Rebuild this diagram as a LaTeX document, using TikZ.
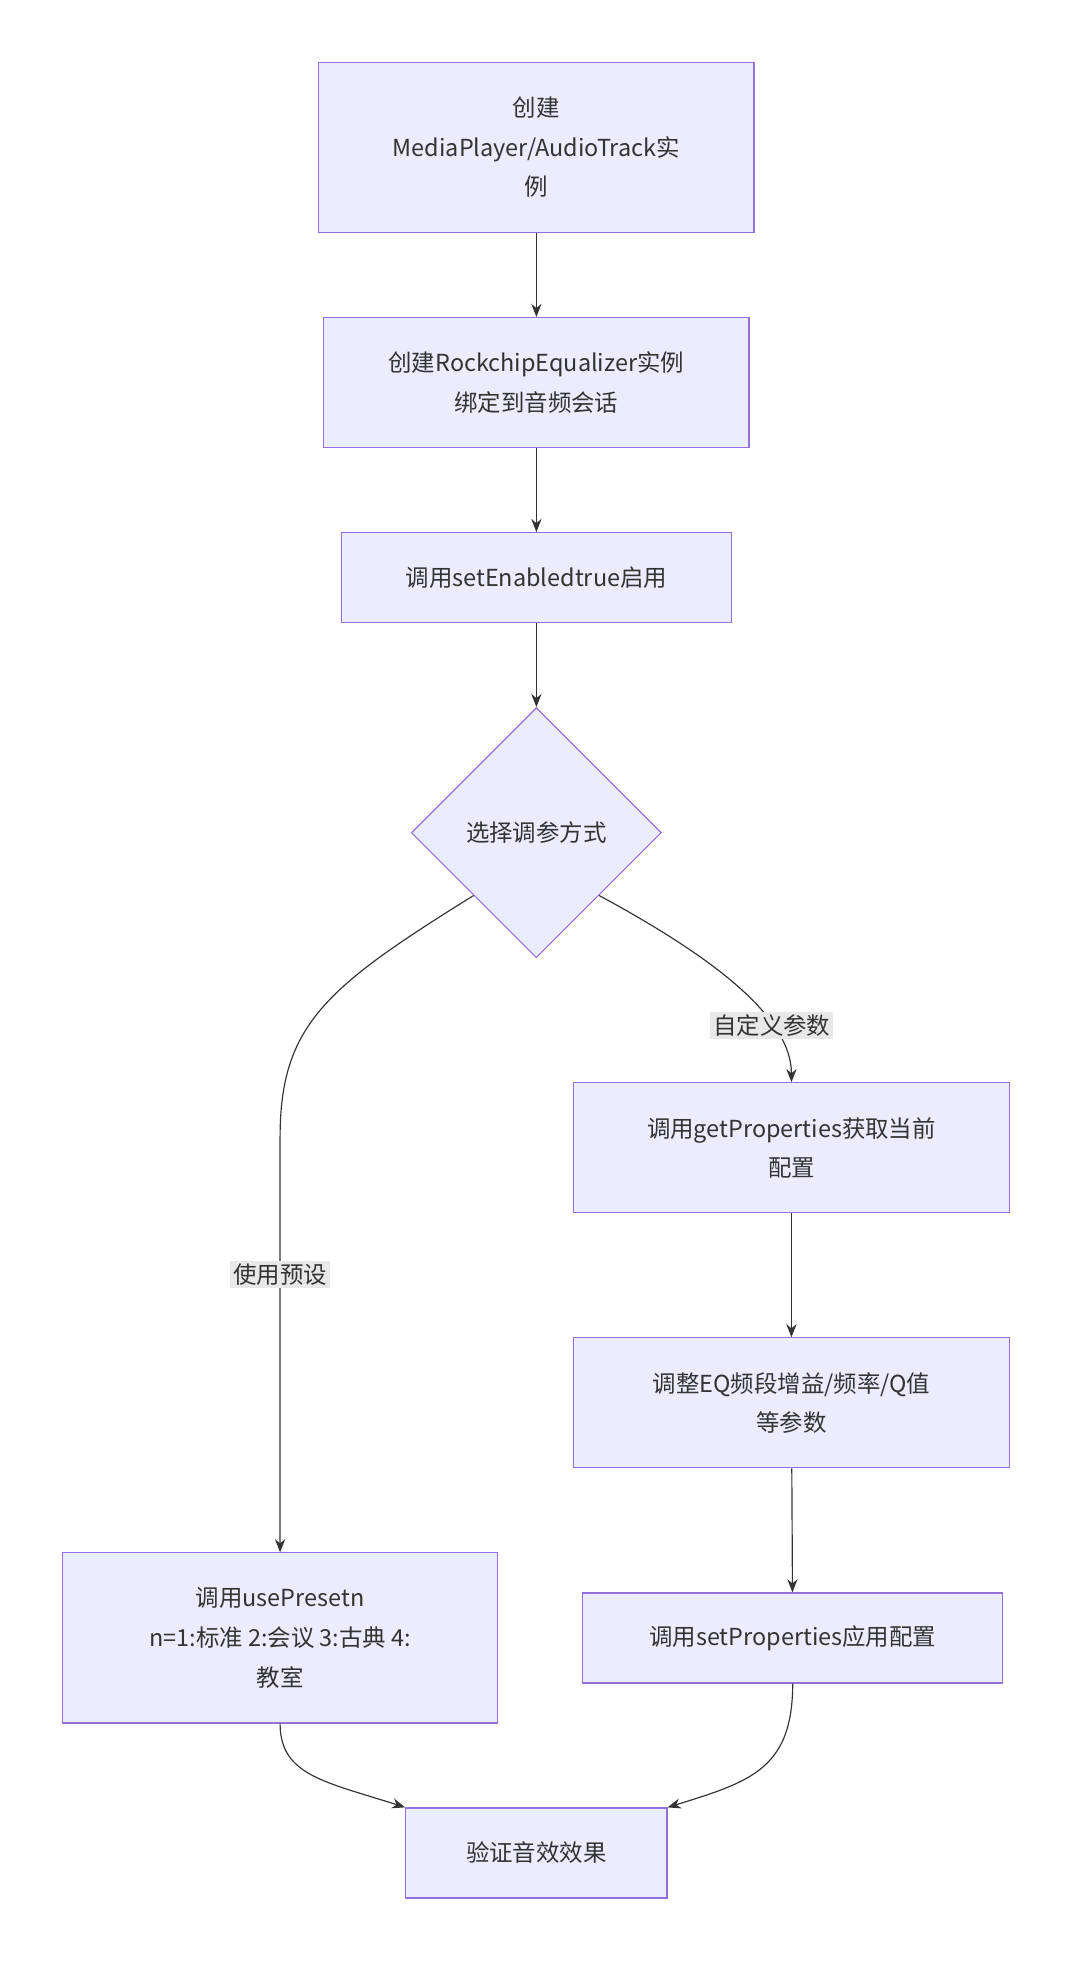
\documentclass[tikz,border=0pt]{standalone}
\usepackage{fontspec}
\setmainfont{Noto Sans CJK SC}
\usetikzlibrary{shapes.geometric,arrows.meta}
\definecolor{boxfill}{HTML}{ECECFF}
\definecolor{boxline}{HTML}{9370DB}
\definecolor{edgeline}{HTML}{333333}
\definecolor{lblfill}{HTML}{E8E8E8}
\begin{document}
\begin{tikzpicture}[
            x = 0.03cm, y = -0.03cm,
            font = \fontsize{16}{27}\selectfont,
            box/.style = {draw=boxline, fill=boxfill, line width=0.8pt, align=center, inner sep=0pt, text=edgeline},
            choice/.style = {diamond, draw=boxline, fill=boxfill, line width=0.8pt, inner sep=0pt, minimum width=200*0.03cm, minimum height=200*0.03cm, text=edgeline},
            flow/.style = {draw=edgeline, line width=0.8pt, -{Stealth[length=9pt,width=7pt]}},
            lbl/.style = {fill=lblfill, inner sep=2pt, text=edgeline}
        ]
	\useasboundingbox (0,0) rectangle (864,1578);

	\node[box, minimum width=348*0.03cm, minimum height=136*0.03cm] (create) at (429,118) {创建\\MediaPlayer/AudioTrack实\\例};
	\node[box, minimum width=340*0.03cm, minimum height=104*0.03cm] (eq) at (429,306) {创建RockchipEqualizer实例\\绑定到音频会话};
	\node[box, minimum width=312*0.03cm, minimum height=72*0.03cm] (enable) at (429,462) {调用setEnabledtrue启用};
	\node[choice] (mode) at (429,666) {选择调参方式};
	\node[box, minimum width=349*0.03cm, minimum height=104*0.03cm] (getp) at (633,918) {调用getProperties获取当前\\配置};
	\node[box, minimum width=349*0.03cm, minimum height=104*0.03cm] (tune) at (633,1122) {调整EQ频段增益/频率/Q值\\等参数};
	\node[box, minimum width=336*0.03cm, minimum height=72*0.03cm] (setp) at (634,1310) {调用setProperties应用配置};
	\node[box, minimum width=348*0.03cm, minimum height=136*0.03cm] (preset) at (224,1310) {调用usePresetn\\n=1:标准 2:会议 3:古典 4:\\教室};
	\node[box, minimum width=209*0.03cm, minimum height=72*0.03cm] (check) at (429,1482) {验证音效效果};

	\draw[flow] (create) -- (eq);
	\draw[flow] (eq) -- (enable);
	\draw[flow] (enable) -- (mode);
	\draw[flow] (mode.south west) .. controls (260,790) and (224,820) .. (224,910) -- node[lbl, pos=0.33] {使用预设} (preset);
	\draw[flow] (mode.south east) .. controls (560,760) and (633,810) .. node[lbl, pos=0.72] {自定义参数} (getp);
	\draw[flow] (getp) -- (tune);
	\draw[flow] (tune) -- (setp);
	\draw[flow] (preset) .. controls (224,1420) and (260,1425) .. (check.north west);
	\draw[flow] (setp) .. controls (634,1415) and (600,1425) .. (check.north east);
\end{tikzpicture}
\end{document}
